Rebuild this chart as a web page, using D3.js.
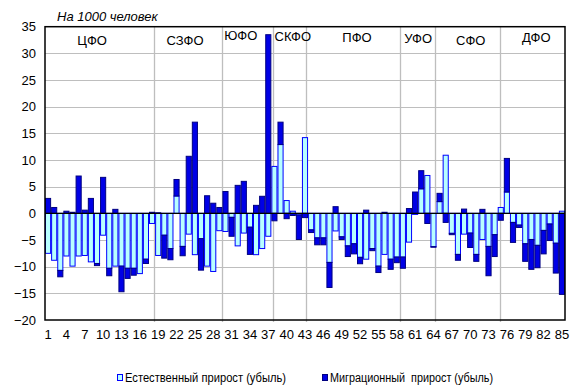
<!DOCTYPE html>
<html><head><meta charset="utf-8">
<script src="https://cdn.jsdelivr.net/npm/d3@7/dist/d3.min.js"></script>
<style>body{margin:0;background:#fff}svg{display:block}text{font-family:Arial,"Liberation Sans",sans-serif;fill:#000}</style>
</head><body><svg id="c" width="580" height="391"></svg>
<script>
const categories = [1,2,3,4,5,6,7,8,9,10,11,12,13,14,15,16,17,18,19,20,21,22,23,24,25,26,27,28,29,30,31,32,33,34,35,36,37,38,39,40,41,42,43,44,45,46,47,48,49,50,51,52,53,54,55,56,57,58,59,60,61,62,63,64,65,66,67,68,69,70,71,72,73,74,75,76,77,78,79,80,81,82,83,84,85];
const natural = [-7.5,-8.8,-10.7,-8.0,-9.9,-8.0,-7.9,-9.1,-9.4,-4.1,-10.3,-9.9,-9.9,-10.3,-10.3,-11.3,-8.6,-1.9,
  -7.9,-4.1,-6.6,3.25,-6.2,-3.9,-7.75,-4.75,-9.9,-10.9,-3.25,
  -3.4,-0.75,-6.1,-3.7,-2.6,-7.75,-6.6,-4.3,
  8.8,12.9,2.4,0.4,-0.3,14.2,-3.1,
  -4.6,-4.6,-9.2,-3.3,-4.4,-6.1,-5.7,-8.25,-8.6,-6.6,-9.9,-7.7,-8.6,-8.2,
  -8.2,-5.4,-0.2,4.6,7.1,-6.25,
  2.2,10.9,-3.75,-7.7,-3.9,-3.7,-7.7,-4.9,-6.2,-4.0,1.1,
  4.0,-1.7,-2.2,-5.7,-4.9,-6.0,-3.2,-2.0,-5.6,0.4];
const migration = [2.8,1.1,-1.2,0.4,0.2,7.0,0.6,2.8,-0.4,6.75,-1.4,0.75,-4.8,-1.9,-1.3,0,-0.8,0.2,
  0.1,-4.3,-2.1,3.1,-1.75,10.7,17.1,-5.9,3.3,1.9,1.1,
  4.1,-3.55,5.25,6.0,-5.1,1.5,3.2,33.5,
  -1.4,4.2,-1.0,-0.4,-4.6,-0.8,-0.5,
  -1.3,-1.3,-4.7,1.25,-0.5,-2.0,-1.9,-1.2,0.6,-0.4,-1.2,0.2,-1.9,-1.05,
  -2.1,0.9,4.0,3.4,-1.9,-0.1,
  1.55,-1.7,-0.25,-1.1,0.8,-2.7,-1.3,0.75,-5.5,-4.1,-1.3,
  6.3,-3.75,-0.45,-3.3,-5.6,-4.2,-4.4,-3.1,-5.6,-15.2];
const xTickLabels = [1,4,7,10,13,16,19,22,25,28,31,34,37,40,43,46,49,52,55,58,61,64,67,70,73,76,79,82,85];
const yTicks = [-20,-15,-10,-5,0,5,10,15,20,25,30,35];
const districts = ["ЦФО","СЗФО","ЮФО","СКФО","ПФО","УФО","СФО","ДФО"];
const districtLabelAt = [7.7,22.9,32.0,40.5,51.0,61.0,69.6,80.3];
const districtLabelDy = [14,14,9,10,11,12,14,11];
const dividerAt = [17.77,29.0,37.2,42.66,58.03,63.67,74.3];
const seriesNames = ["Естественный прирост (убыль)","Миграционный  прирост (убыль)"];
const unitTitle = "На 1000 человек";

const L=45,R=565,T=26.7,B=320;
const svg=d3.select("#c");
const x=d3.scaleBand().domain(categories).range([L,R]).padding(0);
const xl=d3.scaleLinear().domain([0,categories.length]).range([L,R]);
const y=d3.scaleLinear().domain([-20,35]).range([B,T]);
const grid="#BEBEBE";

// horizontal gridlines
svg.append("g").selectAll("line").data(yTicks.filter(v=>v!==0&&v!==35&&v!==-20)).join("line")
  .attr("x1",L).attr("x2",R).attr("y1",d=>Math.round(y(d))+0.5).attr("y2",d=>Math.round(y(d))+0.5)
  .attr("stroke",grid).attr("stroke-width",1);
// vertical dividers
svg.append("g").selectAll("line").data(dividerAt).join("line")
  .attr("x1",d=>Math.round(xl(d))+0.5).attr("x2",d=>Math.round(xl(d))+0.5).attr("y1",T).attr("y2",B+2)
  .attr("stroke",grid).attr("stroke-width",1.3);

// stacked bars
const rows=categories.map((c,i)=>({cat:c,nat:natural[i],mig:migration[i]}));
const stack=d3.stack().keys(["nat","mig"]).offset(d3.stackOffsetDiverging)(rows);
const fills={nat:"#B8FFFF",mig:"#0000E6"};
const strokes={nat:"#0000FF",mig:"#000080"};
svg.append("g").selectAll("g").data(stack).join("g")
  .attr("fill",s=>fills[s.key]).attr("stroke",s=>strokes[s.key]).attr("stroke-width",1)
  .selectAll("rect").data(s=>s.filter(d=>d[1]!==d[0])).join("rect")
  .attr("x",d=>x(d.data.cat)+0.5).attr("width",x.bandwidth()-1)
  .attr("y",d=>y(Math.max(d[0],d[1]))).attr("height",d=>Math.abs(y(d[0])-y(d[1])));

// zero line
svg.append("line").attr("x1",L).attr("x2",R).attr("y1",y(0)).attr("y2",y(0)).attr("stroke","#000").attr("stroke-width",1.2);
// frame
svg.append("rect").attr("x",L).attr("y",T).attr("width",R-L).attr("height",B-T).attr("fill","none").attr("stroke","#000").attr("stroke-width",1.5);

// axes
const yAxis=d3.axisLeft(y).tickValues(yTicks).tickSize(0).tickPadding(9);
svg.append("g").attr("transform",`translate(${L},0)`).call(yAxis)
  .call(g=>g.select(".domain").remove())
  .selectAll("text").attr("font-size",13).attr("font-family","Arial,'Liberation Sans',sans-serif");
const xAxis=d3.axisBottom(x).tickValues(xTickLabels).tickSize(0).tickPadding(10);
svg.append("g").attr("transform",`translate(0,${B})`).call(xAxis)
  .call(g=>g.select(".domain").remove())
  .selectAll("text").attr("font-size",13).attr("font-family","Arial,'Liberation Sans',sans-serif");

// district labels
svg.append("g").selectAll("text").data(districts).join("text")
  .attr("x",(d,i)=>xl(districtLabelAt[i])).attr("y",(d,i)=>T+districtLabelDy[i]+4)
  .attr("text-anchor","middle").attr("font-size",13).text(d=>d);

// title
svg.append("text").attr("x",57).attr("y",21).attr("font-size",13).attr("font-style","italic").text(unitTitle);

// legend
const lg=svg.append("g").attr("font-size",12);
const lx=[117,322];
const lw=[161,163];
seriesNames.forEach((n,i)=>{
  lg.append("rect").attr("x",lx[i]+0.5).attr("y",374.5).attr("width",5).attr("height",6)
    .attr("fill",i===0?"#B8FFFF":"#0000E6").attr("stroke",i===0?"#0000FF":"#000080");
  lg.append("text").attr("x",lx[i]+8).attr("y",382).style("white-space","pre")
    .attr("textLength",lw[i]).attr("lengthAdjust","spacingAndGlyphs").text(n);
});
</script></body></html>
